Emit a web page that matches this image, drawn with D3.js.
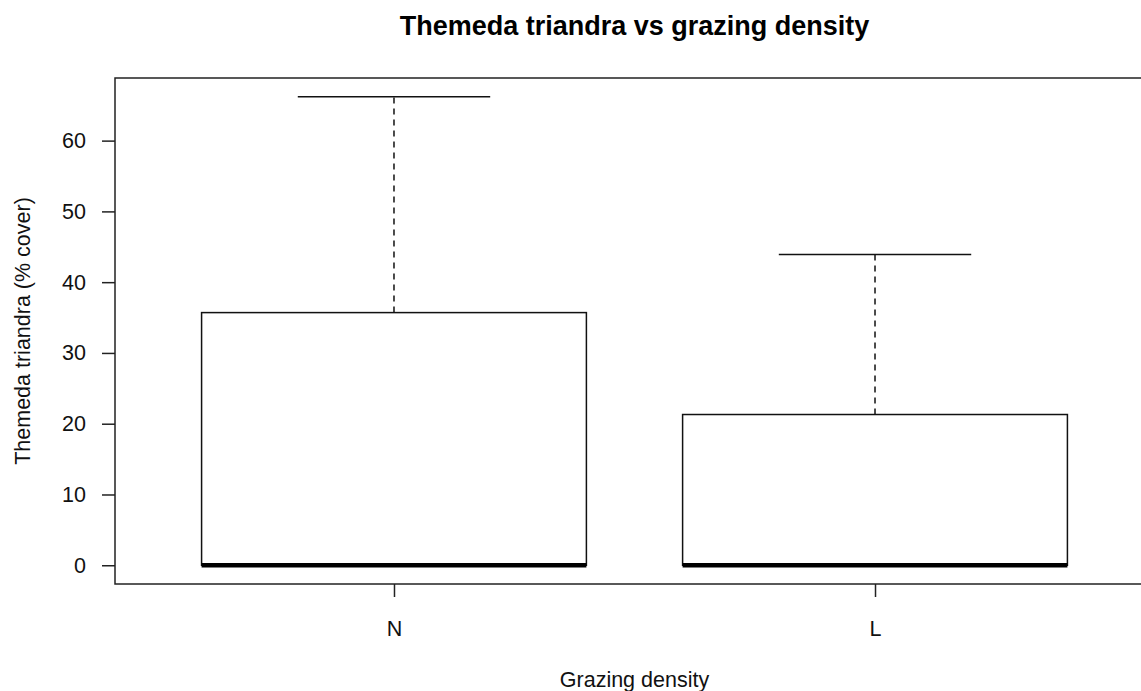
<!DOCTYPE html>
<html>
<head>
<meta charset="utf-8">
<script src="https://cdn.jsdelivr.net/npm/d3@7"></script>
<style>
  body { margin: 0; background: #fff; }
  svg { display: block; font-family: "Liberation Sans", Arial, sans-serif; }
  .axis text { font-size: 21.5px; fill: #111; }
  .axis line { stroke: #222; stroke-width: 1.5px; }
</style>
</head>
<body>
<div id="canvas"></div>
<script>
// boxplot stats per grazing group (% cover)
var groups = ['N', 'L'];
var lowerWhisker = [0, 0];
var q1 = [0, 0];
var median = [0, 0];
var q3 = [35.7, 21.3];
var upperWhisker = [66.2, 43.9];
var yTicks = [0, 10, 20, 30, 40, 50, 60];

var W = 1141, H = 691;
var m = {t: 78, b: 584, l: 115, r: 1154};

var svg = d3.select('#canvas')
    .append('svg')
    .attr('width', W)
    .attr('height', H);

// R style 4% padding on both axes
var yMax = d3.max(upperWhisker), yMin = d3.min(lowerWhisker);
var pad = (yMax - yMin) * 0.04;
var y = d3.scaleLinear().domain([yMin - pad, yMax + pad]).range([m.b, m.t]);
var x = d3.scaleLinear().domain([0.5 - 0.08, groups.length + 0.5 + 0.08]).range([m.l, m.r]);

var boxes = groups.map(function(g, i){
    return {name: g, pos: i + 1, lo: lowerWhisker[i], q1: q1[i], med: median[i], q3: q3[i], hi: upperWhisker[i]};
});

var node = svg.selectAll('.box')
    .data(boxes)
    .enter()
    .append('g').attr('class', 'box');

// dashed whiskers
node.append('line')
    .attr('x1', function(d){return x(d.pos)})
    .attr('x2', function(d){return x(d.pos)})
    .attr('y1', function(d){return y(d.q3)})
    .attr('y2', function(d){return y(d.hi)})
    .style('stroke', '#111').style('stroke-width', 1.5).style('stroke-dasharray', '6,5');
node.append('line')
    .attr('x1', function(d){return x(d.pos)})
    .attr('x2', function(d){return x(d.pos)})
    .attr('y1', function(d){return y(d.lo)})
    .attr('y2', function(d){return y(d.q1)})
    .style('stroke', '#111').style('stroke-width', 1.5).style('stroke-dasharray', '6,5');

// whisker caps
node.append('line')
    .attr('x1', function(d){return x(d.pos - 0.2)})
    .attr('x2', function(d){return x(d.pos + 0.2)})
    .attr('y1', function(d){return y(d.hi)})
    .attr('y2', function(d){return y(d.hi)})
    .style('stroke', '#111').style('stroke-width', 1.5);
node.append('line')
    .attr('x1', function(d){return x(d.pos - 0.2)})
    .attr('x2', function(d){return x(d.pos + 0.2)})
    .attr('y1', function(d){return y(d.lo)})
    .attr('y2', function(d){return y(d.lo)})
    .style('stroke', '#111').style('stroke-width', 1.5);

// box
node.append('rect')
    .attr('x', function(d){return x(d.pos - 0.4)})
    .attr('width', function(d){return x(d.pos + 0.4) - x(d.pos - 0.4)})
    .attr('y', function(d){return y(d.q3)})
    .attr('height', function(d){return y(d.q1) - y(d.q3)})
    .style('fill', '#fff').style('stroke', '#111').style('stroke-width', 1.5);

// median
node.append('line')
    .attr('x1', function(d){return x(d.pos - 0.4)})
    .attr('x2', function(d){return x(d.pos + 0.4)})
    .attr('y1', function(d){return y(d.med)})
    .attr('y2', function(d){return y(d.med)})
    .style('stroke', '#000').style('stroke-width', 4.5);

// axes
svg.append('g').attr('class', 'axis')
    .attr('transform', 'translate(' + m.l + ',0)')
    .call(d3.axisLeft(y).tickValues(yTicks).tickSize(13).tickPadding(16))
    .call(function(g){ g.select('.domain').remove(); });

svg.append('g').attr('class', 'axis')
    .attr('transform', 'translate(0,' + m.b + ')')
    .call(d3.axisBottom(x).tickValues(boxes.map(function(d){return d.pos}))
        .tickFormat(function(v){return groups[v - 1]})
        .tickSize(13).tickPadding(24))
    .call(function(g){ g.select('.domain').remove(); });

// plot frame
svg.append('rect')
    .attr('x', m.l).attr('y', m.t)
    .attr('width', m.r - m.l).attr('height', m.b - m.t)
    .style('fill', 'none').style('stroke', '#222').style('stroke-width', 1.5);

// titles
svg.append('text')
    .attr('x', (m.l + m.r) / 2).attr('y', 35)
    .attr('text-anchor', 'middle')
    .style('font-size', '27px').style('font-weight', 'bold').style('fill', '#000')
    .text('Themeda triandra vs grazing density');

svg.append('text')
    .attr('x', (m.l + m.r) / 2).attr('y', 687)
    .attr('text-anchor', 'middle')
    .style('font-size', '21.5px').style('fill', '#111')
    .text('Grazing density');

svg.append('text')
    .attr('transform', 'translate(30,' + (m.t + m.b) / 2 + ') rotate(-90)')
    .attr('text-anchor', 'middle')
    .style('font-size', '21.5px').style('fill', '#111')
    .text('Themeda triandra (% cover)');
</script>
</body>
</html>
